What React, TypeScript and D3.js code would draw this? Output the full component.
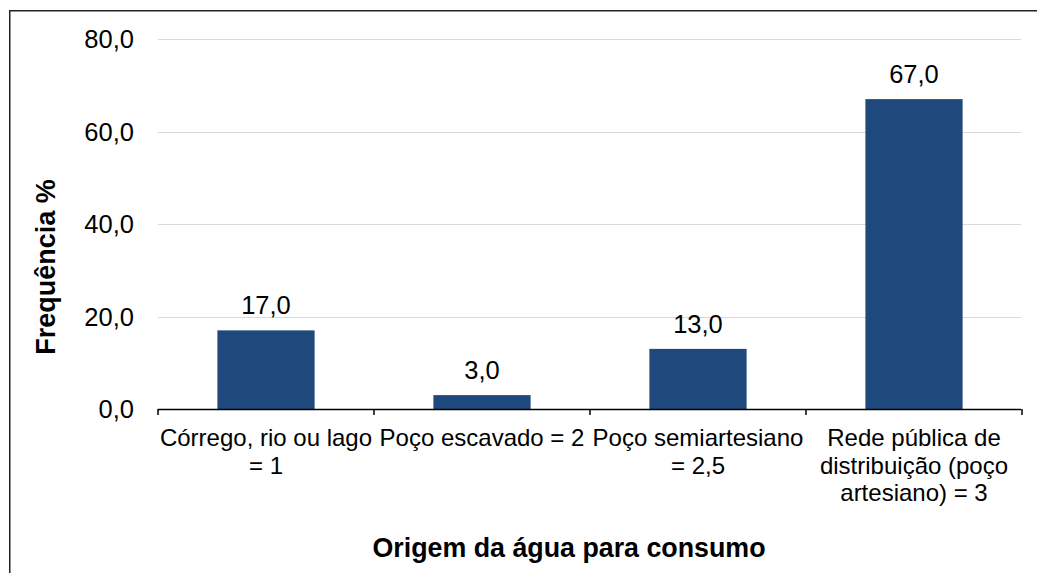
import React from "react";
import * as d3 from "d3";

const categories = [
  "Córrego, rio ou lago = 1",
  "Poço escavado = 2",
  "Poço semiartesiano = 2,5",
  "Rede pública de distribuição (poço artesiano) = 3",
];
const categoryLines = [
  ["Córrego, rio ou lago", "= 1"],
  ["Poço escavado = 2"],
  ["Poço semiartesiano", "= 2,5"],
  ["Rede pública de", "distribuição (poço", "artesiano) = 3"],
];
const values = [17.0, 3.0, 13.0, 67.0];
const yTicks = [0, 20, 40, 60, 80];
const yTitle = "Frequência %";
const xTitle = "Origem da água para consumo";

const W = 1037;
const H = 573;
const FONT = "'Liberation Sans', Arial, sans-serif";
const fmt = (v: number) => v.toFixed(1).replace(".", ",");

export default function App() {
  const x = d3
    .scaleBand<string>()
    .domain(categories)
    .range([158, 1022])
    .paddingInner(0.55)
    .paddingOuter(0.275);
  const y = d3.scaleLinear().domain([0, 80]).range([409, 39]);
  const step = x.step();
  const boundaries = d3.range(categories.length + 1).map((i) => 158 + i * step);

  return (
    <svg
      width={W}
      height={H}
      style={{ position: "absolute", left: 0, top: 0, display: "block", background: "#fff" }}
      fontFamily={FONT}
    >
      <rect x={0} y={0} width={W} height={H} fill="#fff" />
      {/* frame */}
      <line x1={9.75} y1={10.5} x2={9.75} y2={H} stroke="#222" strokeWidth={1.5} />
      <line x1={9} y1={10.75} x2={W} y2={10.75} stroke="#222" strokeWidth={1.5} />

      {/* gridlines */}
      {yTicks
        .filter((t) => t !== 0)
        .map((t) => (
          <line key={t} x1={158} x2={1021} y1={Math.round(y(t)) + 0.5} y2={Math.round(y(t)) + 0.5} stroke="#d9d9d9" strokeWidth={1.2} />
        ))}

      {/* y tick labels */}
      {yTicks.map((t) => (
        <text key={t} x={134} y={y(t) + 9} textAnchor="end" fontSize={25.5} fill="#000">
          {fmt(t)}
        </text>
      ))}

      {/* bars */}
      {categories.map((c, i) => (
        <rect key={c} x={x(c)} y={y(values[i])} width={x.bandwidth()} height={y(0) - y(values[i])} fill="#1F497D" />
      ))}

      {/* value labels */}
      {categories.map((c, i) => (
        <text key={c} x={(x(c) as number) + x.bandwidth() / 2} y={y(values[i]) - 16} textAnchor="middle" fontSize={25.5} fill="#000">
          {fmt(values[i])}
        </text>
      ))}

      {/* x axis */}
      <line x1={158} x2={1021} y1={409.5} y2={409.5} stroke="#000" strokeWidth={1.5} />
      {boundaries.map((b, i) => (
        <line key={i} x1={b} x2={b} y1={409} y2={415} stroke="#000" strokeWidth={1.5} />
      ))}

      {/* category labels */}
      {categories.map((c, i) => (
        <text key={c} textAnchor="middle" fontSize={24} fill="#000">
          {categoryLines[i].map((l, j) => (
            <tspan key={j} x={(x(c) as number) + x.bandwidth() / 2} y={446 + j * 27.5}>
              {l}
            </tspan>
          ))}
        </text>
      ))}

      {/* axis titles */}
      <text
        transform={`translate(55, 267) rotate(-90)`}
        textAnchor="middle"
        fontSize={27}
        fontWeight="bold"
        fill="#000"
      >
        {yTitle}
      </text>
      <text x={569} y={557} textAnchor="middle" fontSize={26.8} fontWeight="bold" fill="#000">
        {xTitle}
      </text>
    </svg>
  );
}
